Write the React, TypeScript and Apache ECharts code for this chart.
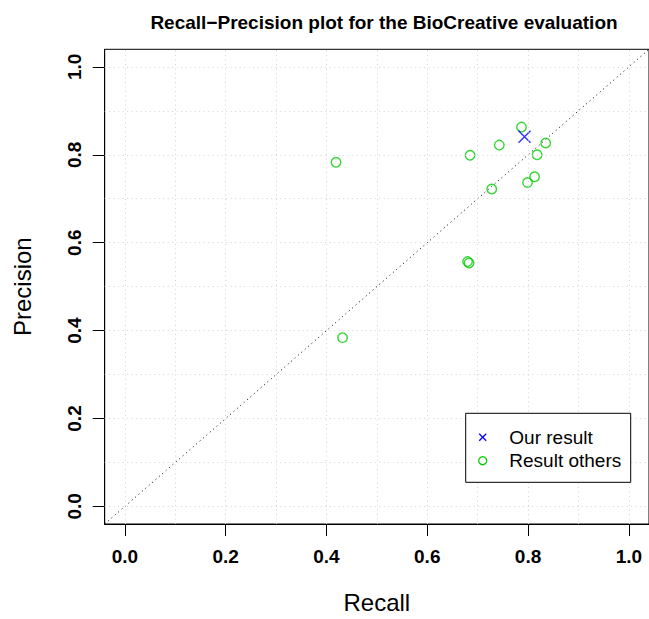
import React, { useEffect, useRef } from "react";
import * as echarts from "echarts";

const ourRecall = [0.793];
const ourPrecision = [0.841];

const othersRecall = [0.419, 0.432, 0.685, 0.68, 0.683, 0.743, 0.728, 0.787, 0.835, 0.818, 0.813, 0.799];
const othersPrecision = [0.783, 0.384, 0.799, 0.557, 0.554, 0.822, 0.722, 0.863, 0.827, 0.8, 0.75, 0.737];

const tickValues = [0, 0.2, 0.4, 0.6, 0.8, 1.0];
const gridValues = [0, 0.1, 0.2, 0.3, 0.4, 0.5, 0.6, 0.7, 0.8, 0.9, 1.0];
const diagonal = [-0.04, 1.04];

const FONT = "'Liberation Sans', Arial, Helvetica, sans-serif";

export default function App() {
  const ref = useRef<HTMLDivElement>(null);
  useEffect(() => {
    if (!ref.current) return;
    const chart = echarts.init(ref.current, null, { renderer: "svg" });
    const gridL = 104.7;
    const gridT = 49.3;
    const gridW = 548.6;
    const gridH = 479.5;
    const legX = 465.7, legY = 413.3, legW = 165, legH = 69;
    chart.setOption({
      animation: false,
      backgroundColor: "#ffffff",
      textStyle: { fontFamily: FONT },
      title: {
        text: "Recall\u2212Precision plot for the BioCreative evaluation",
        left: 379,
        textAlign: "center",
        top: 8,
        textStyle: { fontSize: 19, fontWeight: "bold", color: "#000", fontFamily: FONT },
      },
      grid: {
        left: gridL,
        top: gridT,
        width: gridW,
        height: gridH,
        show: true,
        borderColor: "#000",
        borderWidth: 1,
        backgroundColor: "transparent",
      },
      xAxis: {
        type: "value",
        min: -0.04,
        max: 1.04,
        name: "Recall",
        nameLocation: "middle",
        nameGap: 66,
        nameTextStyle: { fontSize: 24, color: "#000", fontFamily: FONT },
        axisLine: { show: true, onZero: false, lineStyle: { color: "#000", width: 1 } },
        axisTick: { show: true, customValues: tickValues, length: 12, lineStyle: { color: "#000", width: 1 } },
        axisLabel: {
          customValues: tickValues,
          formatter: (v: number) => v.toFixed(1),
          fontSize: 19,
          fontWeight: "bold",
          color: "#000",
          margin: 23,
          fontFamily: FONT,
        },
        splitLine: { show: false },
      },
      yAxis: {
        type: "value",
        min: -0.04,
        max: 1.04,
        name: "Precision",
        nameLocation: "middle",
        nameGap: 70,
        nameRotate: 90,
        nameTextStyle: { fontSize: 24, color: "#000", fontFamily: FONT },
        axisLine: { show: true, onZero: false, lineStyle: { color: "#000", width: 1 } },
        axisTick: { show: true, customValues: tickValues, length: 12, lineStyle: { color: "#000", width: 1 } },
        axisLabel: {
          customValues: tickValues,
          formatter: (v: number) => v.toFixed(1),
          fontSize: 19,
          fontWeight: "bold",
          color: "#000",
          rotate: 90,
          margin: 21,
          fontFamily: FONT,
        },
        splitLine: { show: false },
      },
      series: [
        {
          name: "grid",
          type: "line",
          data: [],
          silent: true,
          markLine: {
            silent: true,
            symbol: "none",
            label: { show: false },
            lineStyle: { color: "#d3d3d3", width: 1, type: [1, 3.5] },
            data: [
              ...gridValues.map((v) => ({ xAxis: v })),
              ...gridValues.map((v) => ({ yAxis: v })),
            ],
          },
        },
        {
          name: "diagonal",
          type: "line",
          data: diagonal.map((v) => [v, v]),
          symbol: "none",
          silent: true,
          lineStyle: { color: "#000", width: 1, type: [1, 3.5] },
        },
        {
          name: "Result others",
          type: "scatter",
          data: othersRecall.map((r, i) => [r, othersPrecision[i]]),
          symbol: "circle",
          symbolSize: 9.5,
          itemStyle: { color: "rgba(0,0,0,0)", borderColor: "#00CD00", borderWidth: 1.4 },
        },
        {
          name: "Our result",
          type: "scatter",
          data: ourRecall.map((r, i) => [r, ourPrecision[i]]),
          symbol: "path://M0,0L10,10M10,0L0,10",
          symbolSize: 12,
          itemStyle: { color: "rgba(0,0,0,0)", borderColor: "#0000FF", borderWidth: 1.4 },
        },
      ],
      graphic: [
        {
          type: "rect",
          shape: { x: legX, y: legY, width: legW, height: legH },
          style: { fill: "#fff", stroke: "#000", lineWidth: 1 },
          z: 10,
        },
        {
          type: "line",
          shape: { x1: legX + 13.5, y1: legY + 20.5, x2: legX + 20.5, y2: legY + 27.5 },
          style: { stroke: "#0000FF", lineWidth: 1.3 },
          z: 11,
        },
        {
          type: "line",
          shape: { x1: legX + 20.5, y1: legY + 20.5, x2: legX + 13.5, y2: legY + 27.5 },
          style: { stroke: "#0000FF", lineWidth: 1.3 },
          z: 11,
        },
        {
          type: "circle",
          shape: { cx: legX + 17, cy: legY + 47.4, r: 4 },
          style: { fill: "none", stroke: "#00CD00", lineWidth: 1.3 },
          z: 11,
        },
        {
          type: "text",
          x: legX + 43.6,
          y: legY + 24,
          style: { text: "Our result", font: `19px ${FONT}`, fill: "#000", textVerticalAlign: "middle" },
          z: 11,
        },
        {
          type: "text",
          x: legX + 43.6,
          y: legY + 47.4,
          style: { text: "Result others", font: `19px ${FONT}`, fill: "#000", textVerticalAlign: "middle" },
          z: 11,
        },
      ],
    });
    return () => chart.dispose();
  }, []);
  return (
    <div
      ref={ref}
      style={{ position: "fixed", left: 0, top: 0, width: 649, height: 619, background: "#fff" }}
    />
  );
}
